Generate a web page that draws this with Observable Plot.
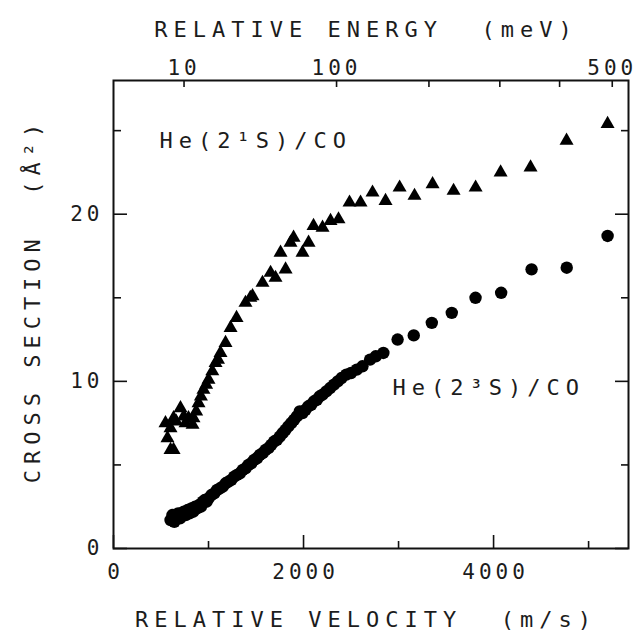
<!DOCTYPE html>
<html><head><meta charset="utf-8">
<script src="https://cdn.jsdelivr.net/npm/d3@7"></script>
<script src="https://cdn.jsdelivr.net/npm/@observablehq/plot@0.6"></script>
<style>
body{margin:0;background:#fff}
svg text{font-family:"DejaVu Sans Mono",monospace;letter-spacing:6px}
svg g[aria-label$="tick label"] text{letter-spacing:4px;font-size:21px}
</style></head><body><div id="chart"></div>
<script>
// He(2^1S)/CO  (triangles): relative velocity (m/s), cross section (Å^2)
const singletV = [547,568,600,632,600,632,660,705,740,758,789,832,842,870,895,920,947,975,1000,1040,1074,1100,1126,1179,1232,1295,1389,1440,1463,1568,1653,1705,1758,1811,1863,1895,1989,2053,2105,2200,2284,2368,2484,2600,2726,2863,3011,3168,3358,3579,3811,4074,4389,4768,5200];
const singletY = [7.5,6.6,5.9,5.9,7.2,7.8,7.6,8.4,7.9,7.5,7.8,7.4,7.8,8.2,8.7,9.1,9.5,9.8,10.1,10.6,11.1,11.3,11.7,12.3,13.2,13.8,14.7,15.0,15.1,15.9,16.5,16.2,17.7,16.7,18.3,18.6,17.7,18.3,19.3,19.2,19.6,19.7,20.7,20.7,21.3,20.8,21.6,21.1,21.8,21.4,21.6,22.5,22.8,24.4,25.4];
// He(2^3S)/CO  (circles)
const tripletV = [600,620,640,660,680,700,720,740,760,780,800,820,840,860,880,900,920,940,960,980,1000,1030,1060,1090,1120,1150,1180,1210,1240,1270,1300,1330,1360,1390,1420,1450,1480,1510,1540,1570,1600,1630,1660,1690,1720,1750,1780,1810,1840,1870,1900,1930,1960,1990,2020,2050,2080,2110,2140,2170,2200,2240,2280,2320,2360,2400,2450,2500,2560,2620,2700,2760,2840,2990,3160,3350,3560,3810,4080,4400,4770,5200];
const tripletY = [1.7,2.0,1.6,1.9,2.1,1.8,2.0,2.2,2.0,2.3,2.1,2.4,2.2,2.5,2.4,2.6,2.5,2.8,2.9,2.8,3.0,3.2,3.3,3.5,3.6,3.7,3.9,4.0,4.1,4.3,4.4,4.5,4.7,4.8,5.0,5.1,5.3,5.4,5.6,5.7,5.9,6.0,6.2,6.4,6.5,6.7,6.9,7.1,7.3,7.5,7.7,7.9,8.2,8.1,8.3,8.5,8.6,8.8,8.9,9.1,9.2,9.4,9.6,9.8,10.0,10.2,10.4,10.5,10.7,10.9,11.3,11.5,11.7,12.5,12.75,13.5,14.1,15.0,15.3,16.7,16.8,18.7];

// axes
const xMajorTicks = [0, 2000, 4000];
const xMinorTicks = [1000, 3000, 5000];
const yMajorTicks = [0, 10, 20];
const yMinorTicks = [5, 15, 25];
const energyTicks = [10, 100, 200, 300, 400, 500];   // meV
const energyLabels = [10, 100, 500];
const xTitle = "RELATIVE VELOCITY  (m/s)";
const topTitle = "RELATIVE ENERGY  (meV)";
const yTitle = "CROSS SECTION  (Å²)";
const seriesNames = ["He(2¹S)/CO", "He(2³S)/CO"];
const seriesLabelV = [484, 2937];
const seriesLabelY = [24.4, 9.6];

// E = ½ μ v², μ(He–CO) ≈ 3.50 u  →  meV per (m/s)²
const K = 0.5 * (4.0026 * 27.995 / (4.0026 + 27.995)) * 1.66054e-27 / 1.602177e-22;
const energyTickV = energyTicks.map(E => Math.sqrt(E / K));

const singlet = singletV.map((v, i) => ({v, y: singletY[i]}));
const triplet = tripletV.map((v, i) => ({v, y: tripletY[i]}));
const labels = seriesNames.map((t, i) => ({t, v: seriesLabelV[i], y: seriesLabelY[i]}));

const W = 638, H = 639, mL = 113, mR = 10, mT = 80, mB = 91;
const fw = W - mL - mR, fh = H - mT - mB;
const ink = "#1c1c1c";
const tick = {stroke: "#111", strokeWidth: 1.6};
const chart = Plot.plot({
  width: W, height: H,
  marginLeft: mL, marginRight: mR, marginTop: mT, marginBottom: mB,
  style: {fontFamily: "DejaVu Sans Mono", fontSize: "22px", color: ink, background: "white"},
  x: {domain: [0, 5420]},
  y: {domain: [0, 28]},
  marks: [
    // inward tick marks
    Plot.ruleX(xMajorTicks, {x: d => d, insetTop: fh - 13, ...tick}),
    Plot.ruleX(xMinorTicks, {x: d => d, insetTop: fh - 7, ...tick}),
    Plot.ruleX(energyTickV, {x: d => d, insetBottom: fh - 7, ...tick}),
    Plot.ruleY(yMajorTicks, {y: d => d, insetRight: fw - 14, ...tick}),
    Plot.ruleY(yMinorTicks, {y: d => d, insetRight: fw - 8, ...tick}),
    Plot.ruleY(yMajorTicks, {y: d => d, insetLeft: fw - 13, ...tick}),
    Plot.ruleY(yMinorTicks, {y: d => d, insetLeft: fw - 7, ...tick}),
    // tick labels
    Plot.axisX(xMajorTicks, {anchor: "bottom", tickSize: 0, tickPadding: 16, dx: 2, tickFormat: d => String(d), label: null}),
    Plot.axisX(energyTickV, {anchor: "top", tickSize: 0, tickPadding: 6, dx: 0, label: null,
      tickFormat: v => { const E = Math.round(K * v * v); return energyLabels.includes(E) ? String(E) : ""; }}),
    Plot.axisY(yMajorTicks, {anchor: "left", tickSize: 0, tickPadding: 10, tickFormat: d => String(d), label: null}),
    Plot.frame({stroke: "#111", strokeWidth: 2}),
    Plot.dot(triplet, {x: "v", y: "y", r: 6.2, fill: "black", stroke: "none"}),
    Plot.dot(singlet, {x: "v", y: "y", r: 5.2, symbol: "triangle", fill: "black", stroke: "none"}),
    Plot.text(labels, {x: "v", y: "y", text: "t", textAnchor: "start", fill: ink}),
    Plot.text([xTitle], {text: d => d, frameAnchor: "bottom", dy: 78, dx: -5, fill: ink}),
    Plot.text([topTitle], {text: d => d, frameAnchor: "top", dy: -59, dx: -5, fill: ink}),
    Plot.text([yTitle], {text: d => d, frameAnchor: "left", textAnchor: "middle", rotate: -90, dx: -81, dy: -14, fill: ink})
  ]
});
document.getElementById("chart").appendChild(chart);
</script></body></html>
